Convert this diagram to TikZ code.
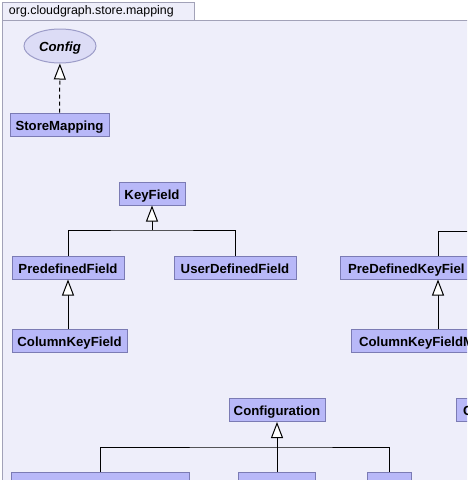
\documentclass[tikz,border=0pt]{standalone}
\usepackage{fontspec}
\setmainfont{Liberation Sans}
\usetikzlibrary{arrows.meta,shapes.geometric}
\definecolor{pkgbg}{HTML}{EEEEFA}
\definecolor{pkgline}{HTML}{A2A2B8}
\definecolor{clsfill}{HTML}{B8B8F8}
\definecolor{clsline}{HTML}{7B7BB4}
\definecolor{iffill}{HTML}{DCDCF6}
\definecolor{ifline}{HTML}{9C9CC8}

\begin{document}
\begin{tikzpicture}[x=1pt,y=-1pt,line width=1pt,
  >={Triangle[fill=white,length=16pt,width=12pt]},
  cls/.style={draw=clsline,fill=clsfill,inner sep=0pt,minimum height=23pt,
    text height=11pt,text depth=0pt,
    font=\bfseries\fontsize{13.2}{15}\selectfont},
  cut/.style={cls,align=left,inner xsep=8pt},
  iface/.style={ellipse,draw=ifline,fill=iffill,inner sep=0pt,
    minimum width=72pt,minimum height=34pt,text height=11pt,text depth=0pt,
    font=\bfseries\itshape\fontsize{13.2}{15}\selectfont}]
  \clip (0,0) rectangle (467,480);
  \fill[white] (0,0) rectangle (467,480);
  \draw[pkgline,fill=pkgbg] (2,20) rectangle (520,520);
  \draw[pkgline,fill=pkgbg] (2,2) rectangle (194,20);
  \node[anchor=west,inner sep=0pt,font=\fontsize{12.4}{14}\selectfont] (pkg) at (8.5,11.5) {org.cloudgraph.store.mapping};
  \node[iface] (config) at (60,46) {Config};
  \node[cls,minimum width=99pt] (storemapping) at (59.5,124.5) {StoreMapping};
  \node[cls,minimum width=66pt] (keyfield) at (152,193.5) {KeyField};
  \node[cls,minimum width=112pt] (predefinedfield) at (68,267.5) {PredefinedField};
  \node[cls,minimum width=122pt] (userdefinedfield) at (235,267.5) {UserDefinedField};
  \node[cls,minimum width=115pt] (columnkeyfield) at (69.5,340.5) {ColumnKeyField};
  \node[cut,text width=180pt] (predefinedkeyfield) at (438,267.5) {PreDefinedKeyFiel};
  \node[cut,text width=158pt] (columnkeyfieldm) at (438,340.5) {ColumnKeyFieldM};
  \node[cls,minimum width=96pt] (configuration) at (277,410) {Configuration};
  \node[cut,inner xsep=7pt,text width=40pt] (cbox) at (483,410) {C};
  \node[cls,minimum width=178pt] (confa) at (100,483.5) {};
  \node[cls,minimum width=77pt] (confb) at (277,483.5) {};
  \node[cls,minimum width=44pt] (confc) at (389,483.5) {};
  \coordinate (kfjoin) at (152,230);
  \coordinate (pdkparent) at (480,231);
  \coordinate (confjoin) at (277,447);
  \draw[->,dash pattern=on 4pt off 3pt] (storemapping) -- (config);
  \draw[->] (kfjoin) -- (keyfield);
  \draw (predefinedfield.north) |- (kfjoin) -| (userdefinedfield.north);
  \draw[->] (columnkeyfield.north -| predefinedfield.south) -- (predefinedfield);
  \draw (predefinedkeyfield.north) |- (pdkparent);
  \draw[->] (columnkeyfieldm) -- (predefinedkeyfield);
  \draw[->] (confjoin) -- (configuration);
  \draw (confa.north) |- (confjoin) -| (confc.north);
  \draw (confb.north) -- (confjoin);
\end{tikzpicture}
\end{document}
